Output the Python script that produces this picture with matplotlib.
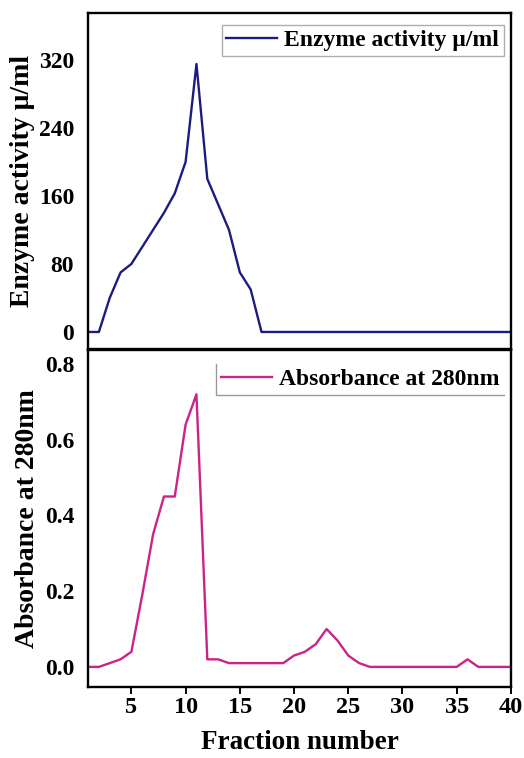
import matplotlib
matplotlib.use('Agg')
import matplotlib.pyplot as plt
from matplotlib.lines import Line2D

plt.rcParams['font.family'] = ['Liberation Serif', 'DejaVu Serif']
plt.rcParams['font.weight'] = 'bold'

# fraction numbers 1..40
fractions = list(range(1, 41))

# enzyme activity (u/ml)
enzyme = [0, 0, 40, 70, 80, 100, 120, 140, 163, 200,
          315, 180, 150, 120, 70, 50, 0, 0, 0, 0,
          0, 0, 0, 0, 0, 0, 0, 0, 0, 0,
          0, 0, 0, 0, 0, 0, 0, 0, 0, 0]

# absorbance at 280 nm
absorb = [0.0, 0.0, 0.01, 0.02, 0.04, 0.19, 0.35, 0.45, 0.45, 0.64,
          0.72, 0.02, 0.02, 0.01, 0.01, 0.01, 0.01, 0.01, 0.01, 0.03,
          0.04, 0.06, 0.10, 0.07, 0.03, 0.01, 0.0, 0.0, 0.0, 0.0,
          0.0, 0.0, 0.0, 0.0, 0.0, 0.02, 0.0, 0.0, 0.0, 0.0]

enzyme_ticks = [0, 80, 160, 240, 320]
absorb_ticks = [0.0, 0.2, 0.4, 0.6, 0.8]
x_ticks = [5, 10, 15, 20, 25, 30, 35, 40]

fig = plt.figure(figsize=(5.24, 7.58), dpi=100)
ax1 = fig.add_axes([0.168, 0.5396, 0.807, 0.4433])
ax2 = fig.add_axes([0.168, 0.0937, 0.807, 0.4446])

leg_kw = dict(loc='upper right', fontsize=17, frameon=True, fancybox=False,
              edgecolor='#999999', handlelength=2.15, handletextpad=0.3,
              borderpad=0.2, borderaxespad=0)

# top panel
ax1.plot(fractions, enzyme, color='#1c1c80', lw=1.7, label='Enzyme activity \u03bc/ml')
ax1.set_xlim(1, 40)
ax1.set_ylim(-20, 375)
ax1.set_yticks(enzyme_ticks)
ax1.set_xticks([])
ax1.set_ylabel('Enzyme activity \u03bc/ml', fontsize=20, fontweight='bold', labelpad=3)
leg1 = ax1.legend(bbox_to_anchor=(1 - 7 / 423, 1 - 12 / 336), **leg_kw)
leg1.get_frame().set_linewidth(1.0)

# bottom panel
ax2.plot(fractions, absorb, color='#cc2388', lw=1.7, label='Absorbance at 280nm')
ax2.set_xlim(1, 40)
ax2.set_ylim(-0.053, 0.837)
ax2.set_yticks(absorb_ticks)
ax2.set_yticklabels(['%.1f' % v for v in absorb_ticks])
ax2.set_xticks(x_ticks)
ax2.set_xlabel('Fraction number', fontsize=19.5, fontweight='bold', labelpad=9)
ax2.set_ylabel('Absorbance at 280nm', fontsize=20, fontweight='bold', labelpad=3)
leg2 = ax2.legend(bbox_to_anchor=(1 - 7 / 423, 1 - 14 / 337), **leg_kw)
# the lower legend box only shows its left and bottom edges
leg2.get_frame().set_edgecolor('none')

for ax in (ax1, ax2):
    for sp in ax.spines.values():
        sp.set_linewidth(1.7)
    ax.tick_params(axis='y', length=0, labelsize=17, pad=10)
    ax.tick_params(axis='x', direction='out', length=5, width=1.4, labelsize=17.5, pad=2)

fig.canvas.draw()
bb = leg2.get_frame().get_window_extent().transformed(fig.transFigure.inverted())
fig.add_artist(Line2D([bb.x0, bb.x0, bb.x1], [bb.y1, bb.y0, bb.y0],
                      transform=fig.transFigure, color='#999999', lw=1.0))

fig.savefig('out.png', dpi=100)
